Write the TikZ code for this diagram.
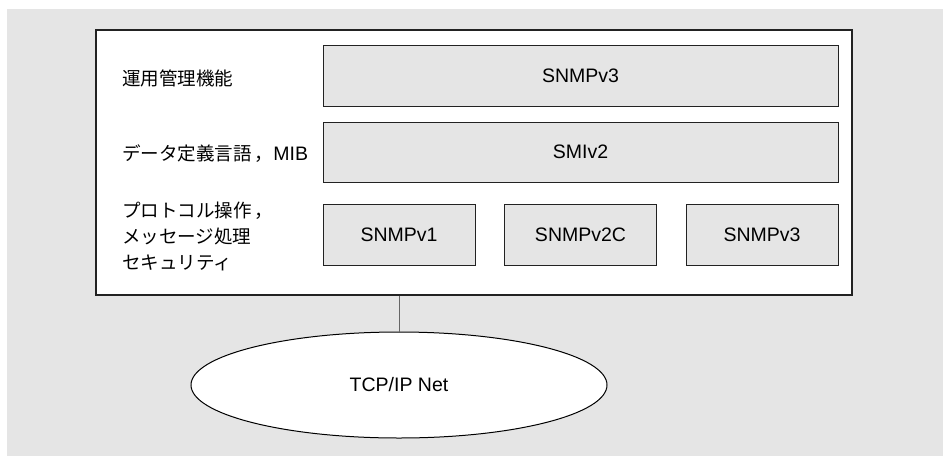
\documentclass[tikz,border=0pt]{standalone}
\usepackage{fontspec}
\setmainfont{Liberation Sans}
\newfontfamily\jafont[Scale=0.95]{Noto Sans CJK JP}
\usetikzlibrary{shapes.geometric}
\definecolor{panel}{HTML}{E5E5E5}
\definecolor{edge}{HTML}{222222}
\definecolor{wire}{HTML}{666666}
\begin{document}
\begin{tikzpicture}[x=1pt,y=-1pt]
    \tikzstyle{every node}+=[font=\fontsize{19.5}{26}\selectfont]
    \tikzstyle{layer}=[draw=edge, line width=1pt, fill=panel, inner sep=0pt]
    \tikzstyle{caption}=[anchor=west, align=left, inner sep=0pt]
    \useasboundingbox (0,0) rectangle (943,456);
    \fill [panel] (7,9) rectangle (943,456);
    % agent frame
    \node [draw=edge, line width=1.2pt, fill=white, minimum width=756pt, minimum height=265pt] (agent) at (474,162.5) {};
    % layers
    \node [layer, minimum width=515pt, minimum height=61pt] (ops) at (580.5,75.5) {SNMPv3};
    \node [layer, minimum width=515pt, minimum height=60pt] (smi) at (580.5,152) {SMIv2};
    \node [layer, minimum width=152pt, minimum height=61pt] (v1) at (399,234.5) {SNMPv1};
    \node [layer, minimum width=152pt, minimum height=61pt] (v2c) at (580.5,234.5) {SNMPv2C};
    \node [layer, minimum width=152pt, minimum height=61pt] (v3) at (762,234.5) {SNMPv3};
    % row captions
    \node [caption] (opsl) at (122,78) {\jafont 運用管理機能};
    \node [caption] (smil) at (122,154) {{\jafont データ定義言語\,，}MIB};
    \node [caption] (protol) at (122,236) {\jafont プロトコル操作\,，\\\jafont メッセージ処理\\\jafont セキュリティ};
    % network
    \node [draw=black, line width=1pt, fill=white, ellipse, inner sep=0pt, minimum width=416pt, minimum height=106pt] (net) at (399,385) {TCP/IP Net};
    \draw [wire, line width=1pt] (net.north |- agent.south) -- (net.north);
\end{tikzpicture}
\end{document}
